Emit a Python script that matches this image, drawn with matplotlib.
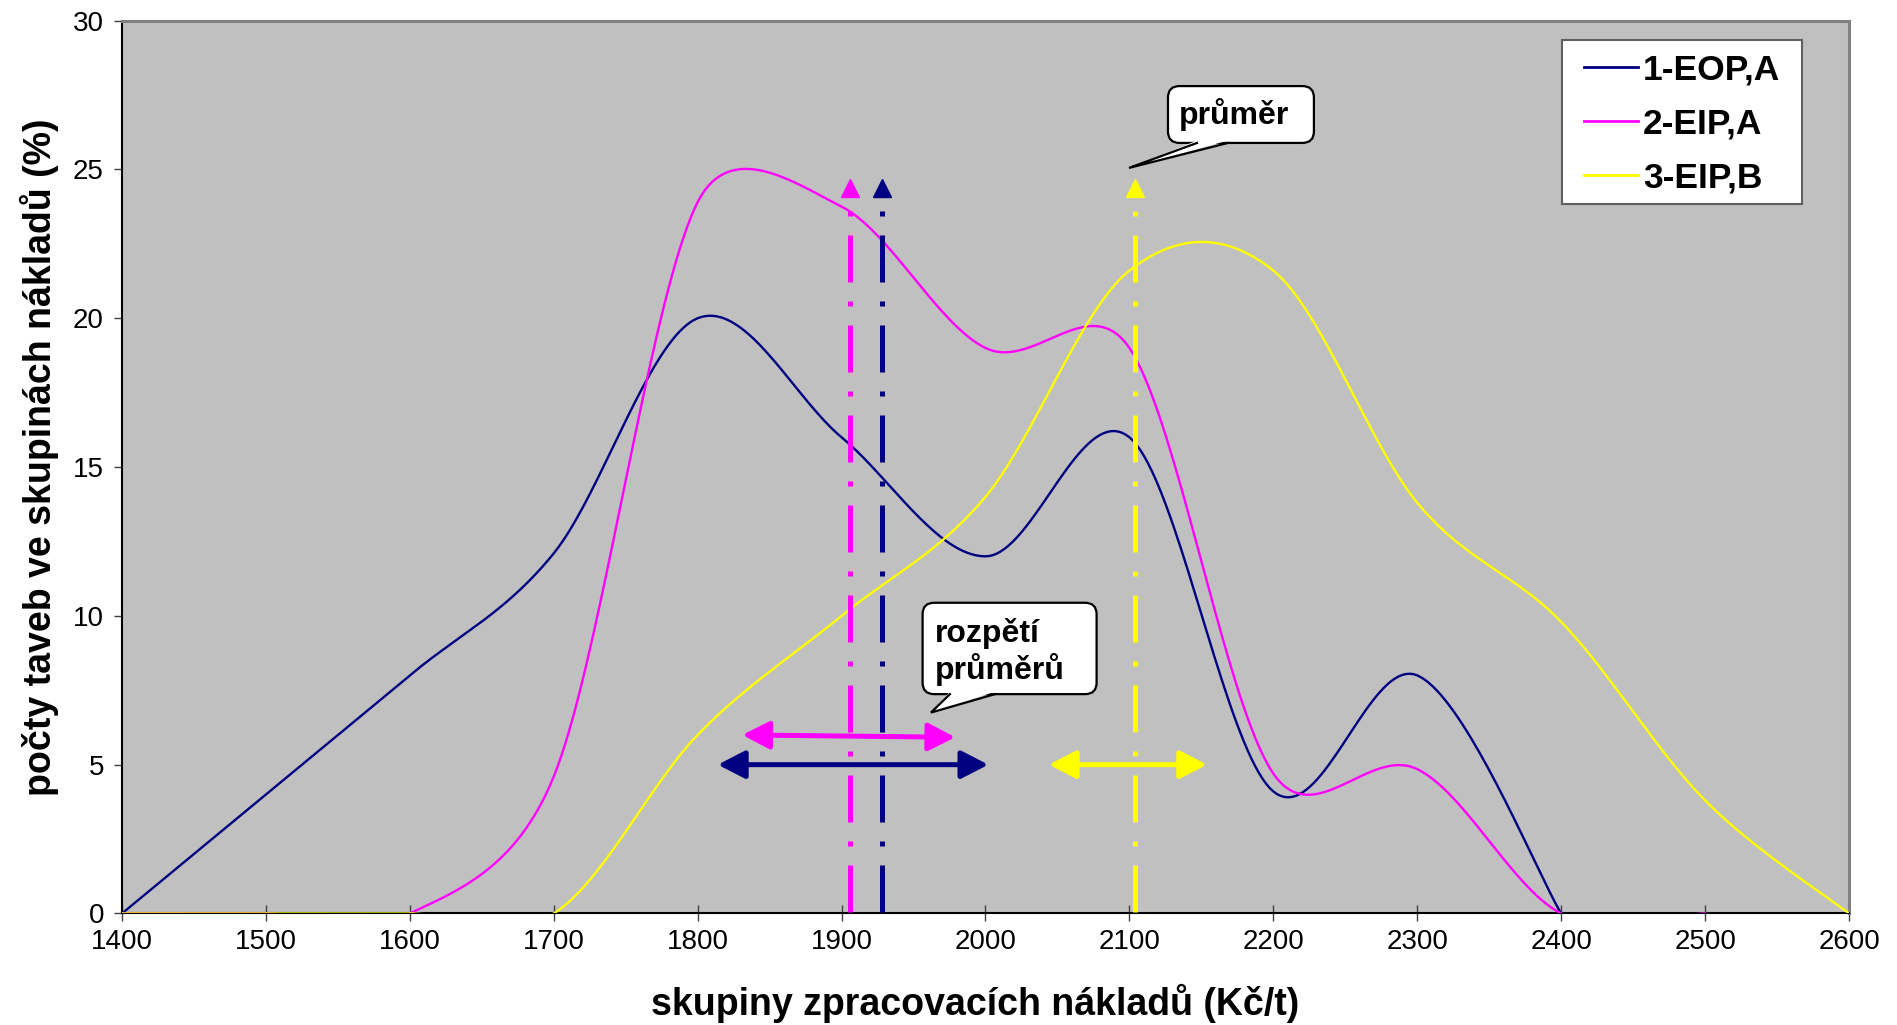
import numpy as np
import matplotlib
matplotlib.use("Agg")
import matplotlib.pyplot as plt
from matplotlib.patches import FancyBboxPatch, Polygon, FancyArrowPatch, Rectangle

plt.rcParams['font.family'] = ['Liberation Sans', 'DejaVu Sans']

# data
groups = [1400, 1500, 1600, 1700, 1800, 1900, 2000, 2100, 2200, 2300, 2400, 2500, 2600]
eop_a = [0, 4.0, 8.0, 12.1, 20.0, 16.0, 12.0, 16.0, 4.1, 8.0, 0]
eip_a = [0, 0, 0, 4.6, 23.9, 23.75, 19.0, 19.0, 4.7, 4.85, 0, 0]
eip_b = [0, 0, 0, 0, 6.0, 10.0, 14.0, 21.6, 21.6, 13.8, 9.8, 3.8, 0]
names = ['1-EOP,A', '2-EIP,A', '3-EIP,B']
colors = ['#000080', '#FF00FF', '#FFFF00']

# averages and ranges of averages
means = [1928, 1906, 2104]
mean_top = 23.6
range_from = [(1814, 5.0), (1831, 6.0), (2044, 5.0)]
range_to = [(2002, 5.0), (1979, 5.92), (2154, 5.0)]


def excel_smooth(ax, xs, ys, n=40):
    # Excel-like smoothed line (tangent/6, handle clamped to half the segment)
    pts = ax.transData.transform(np.column_stack([xs, ys]))
    out = [pts[0]]
    for i in range(len(pts) - 1):
        p0 = pts[i - 1] if i > 0 else pts[i]
        p1, p2 = pts[i], pts[i + 1]
        p3 = pts[i + 2] if i + 2 < len(pts) else pts[i + 1]
        half = np.hypot(*(p2 - p1)) / 2
        v1 = (p2 - p0) / 6
        v2 = (p3 - p1) / 6
        l1, l2 = np.hypot(*v1), np.hypot(*v2)
        if l1 > half:
            v1 = v1 * half / l1
        if l2 > half:
            v2 = v2 * half / l2
        c1 = p1 + v1
        c2 = p2 - v2
        t = np.linspace(0, 1, n)[1:, None]
        seg = (1 - t)**3 * p1 + 3 * (1 - t)**2 * t * c1 + 3 * (1 - t) * t**2 * c2 + t**3 * p2
        out.extend(seg)
    return ax.transData.inverted().transform(np.array(out))


fig = plt.figure(figsize=(18.97, 10.25), dpi=100)
ax = fig.add_axes([0.0643, 0.1088, 0.9104, 0.8711])
ax.set_facecolor('#C0C0C0')
ax.set_xlim(1400, 2600)
ax.set_ylim(0, 30)

series = [eop_a, eip_a, eip_b]
for vals, name, c in zip(series, names, colors):
    xy = excel_smooth(ax, groups[:len(vals)], vals)
    ax.plot(xy[:, 0], xy[:, 1], color=c, lw=1.7, label=name, zorder=3)

# average lines with arrow tips
for m, c in zip(means, colors):
    ax.plot([m, m], [mean_top, 0], color=c, lw=3.6,
            linestyle=(0, (1.0, 3.8, 9.4, 3.8)), zorder=4)
    ax.plot([m], [24.38], marker='^', ms=13, color=c, mec=c, zorder=4,
            clip_on=False)

# range arrows
for a, b, c in zip(range_from, range_to, colors):
    arr = FancyArrowPatch(a, b, arrowstyle='<|-|>,head_length=1.65,head_width=0.85',
                          mutation_scale=10, color=c, lw=3.6, shrinkA=0, shrinkB=0,
                          zorder=5)
    ax.add_patch(arr)

asp = (30 / 892.9) / (1200 / 1727)


def callout(x0, y0, x1, y1, base, tip, text, tx, ty):
    box = FancyBboxPatch((x0, y0), x1 - x0, y1 - y0,
                         boxstyle="round,pad=0,rounding_size=8",
                         mutation_aspect=asp, fc='white', ec='black', lw=1.6, zorder=6)
    ax.add_patch(box)
    tail = Polygon([(base[0], y0 + 0.08), tip, (base[1], y0 + 0.08)],
                   closed=True, fc='white', ec='none', zorder=7)
    ax.add_patch(tail)
    ax.plot([base[0], tip[0], base[1]], [y0, tip[1], y0], color='black', lw=1.6,
            zorder=8, solid_joinstyle='miter')
    ax.text(tx, ty, text, fontsize=23, fontweight='bold', ha='left', va='center',
            linespacing=1.15, zorder=9)


callout(2126.8, 25.89, 2228.2, 27.80, (2147, 2168.5), (2099.7, 25.05),
        'průměr', 2134.5, 26.85)
callout(1956.3, 7.37, 2077.2, 10.44, (1975.3, 2006.6), (1962.1, 6.75),
        'rozpětí\nprůměrů', 1965.0, 8.8)

ax.set_xticks(groups)
ax.set_yticks(range(0, 31, 5))
ax.tick_params(axis='x', direction='inout', length=11, width=1, color='#404040',
               labelsize=20, pad=6)
ax.tick_params(axis='y', direction='out', length=6, width=1, color='#404040',
               labelsize=20, pad=7)

for s in ['left', 'bottom']:
    ax.spines[s].set_color('black')
    ax.spines[s].set_linewidth(1.5)
for s in ['top', 'right']:
    ax.spines[s].set_color('#808080')
    ax.spines[s].set_linewidth(2.2)

fig.text(0.514, 0.021, 'skupiny zpracovacích nákladů (Kč/t)', fontsize=27,
         fontweight='bold', ha='center', va='center')
fig.text(0.0206, 0.554, 'počty taveb ve skupinách nákladů (%)', fontsize=27,
         fontweight='bold', ha='center', va='center', rotation=90)

# legend frame drawn separately (wider side padding than top/bottom)
ax.add_patch(Rectangle((0.8336, 0.7946), 0.9726 - 0.8336, 0.9783 - 0.7946,
                       transform=ax.transAxes, fc='white', ec='#606060', lw=1.5,
                       zorder=10))
leg = ax.legend(loc='upper left', bbox_to_anchor=(0.8468, 0.9635), borderaxespad=0,
                prop={'weight': 'bold', 'size': 25.5}, frameon=False,
                handlelength=1.5, handletextpad=0.15, borderpad=0,
                labelspacing=0.6)
leg.set_zorder(11)
for h in leg.get_lines():
    h.set_linewidth(2)

fig.savefig('out.png', dpi=100)
